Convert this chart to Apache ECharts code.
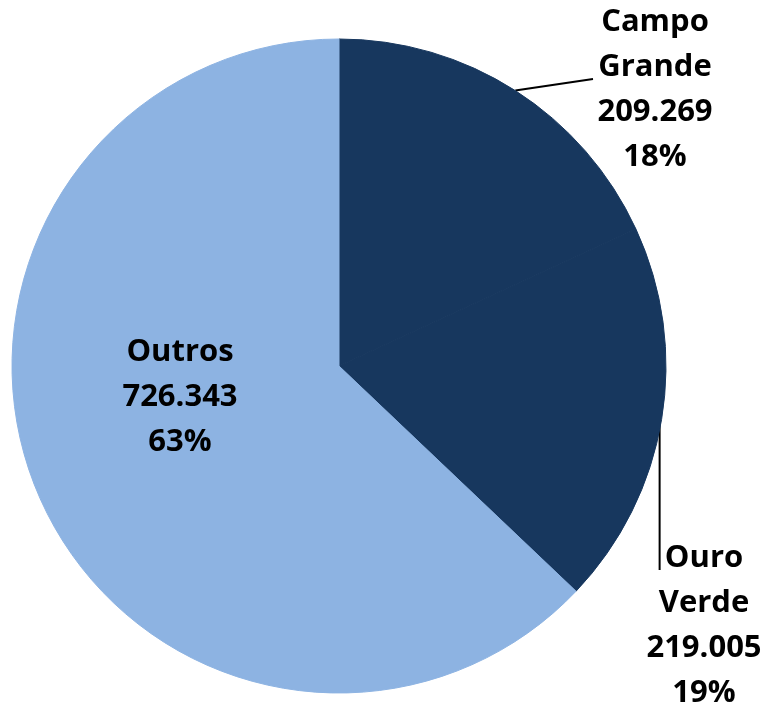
<!DOCTYPE html>
<html>
<head>
<meta charset="utf-8">
<script src="https://cdn.jsdelivr.net/npm/echarts@6/dist/echarts.min.js"></script>
<style>
  html, body { margin: 0; padding: 0; background: #fff; }
</style>
</head>
<body>
<div id="pie" style="width: 769px; height: 709px;"></div>
<script>
  const names = ["Campo\nGrande", "Ouro\nVerde", "Outros"];
  const values = [209.269, 219.005, 726.343];
  const percents = ["18%", "19%", "63%"];
  const colors = ["#17375E", "#17375E", "#8DB3E2"];

  // label placement (where Excel put them)
  const labelPos = [[655, 90], [704, 626], [180, 397]];

  const fmt = (v) => v.toFixed(3);

  let myChart = echarts.init(document.getElementById("pie"));
  myChart.setOption({
    animation: false,
    series: [
      {
        type: "pie",
        center: [339, 366],
        radius: 327,
        startAngle: 90,
        clockwise: true,
        avoidLabelOverlap: false,
        data: names.map((n, i) => ({
          name: n,
          value: values[i],
          itemStyle: { color: colors[i], borderColor: colors[i], borderWidth: 1 },
          label: { position: i === 2 ? "inside" : "outside" },
          labelLine: { show: i !== 2 },
        })),
        label: {
          formatter: (p) => p.name + "\n" + fmt(p.value) + "\n" + percents[p.dataIndex],
          fontFamily: "Open Sans",
          fontWeight: "bold",
          fontSize: 31,
          lineHeight: 45,
          color: "#000",
          align: "center",
        },
        labelLine: {
          lineStyle: { color: "#000", width: 2 },
        },
        labelLayout: function (params) {
          const i = params.dataIndex;
          const out = {
            x: labelPos[i][0],
            y: labelPos[i][1],
            align: "center",
            verticalAlign: "middle",
          };
          const pts = params.labelLinePoints;
          if (pts && i === 0) {
            out.labelLinePoints = [pts[0], [593, 79]];
          } else if (pts && i === 1) {
            out.labelLinePoints = [[pts[0][0] - 2, pts[0][1]], [pts[0][0] - 2, 570]];
          }
          return out;
        },
      },
    ],
  });
</script>
</body>
</html>
